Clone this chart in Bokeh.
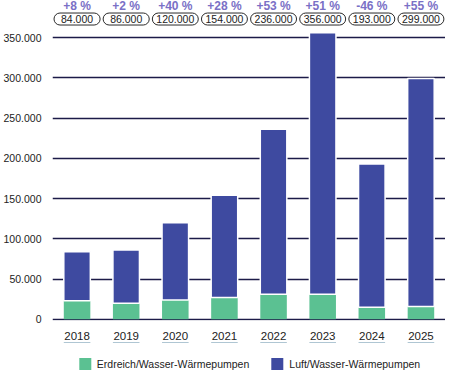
from bokeh.plotting import figure
from bokeh.layouts import column
from bokeh.models import (Range1d, FactorRange, FixedTicker, Legend, LegendItem,
                          ColumnDataSource, CDSView, IndexFilter)
from bokeh.core.properties import value
from bokeh.embed import file_html
from bokeh.resources import INLINE

years = ["2018", "2019", "2020", "2021", "2022", "2023", "2024", "2025"]
erdreich = [23000, 20000, 24000, 27000, 31000, 31000, 15000, 16000]
luft = [61000, 66000, 96000, 127000, 205000, 325000, 178000, 283000]
total_labels = ["84.000", "86.000", "120.000", "154.000", "236.000", "356.000", "193.000", "299.000"]
change_labels = ["+8 %", "+2 %", "+40 %", "+28 %", "+53 %", "+51 %", "-46 %", "+55 %"]
y_ticks = [0, 50000, 100000, 150000, 200000, 250000, 300000, 350000]
y_tick_labels = ["0", "50.000", "100.000", "150.000", "200.000", "250.000", "300.000", "350.000"]
series_names = ["Erdreich/Wasser-Wärmepumpen", "Luft/Wasser-Wärmepumpen"]

GREEN = "#5bc192"
BLUE = "#3e4aa0"
PURPLE = "#7a70c6"
DARK = "#1c1b48"
FONT = "Liberation Sans"

CHANGE_Y = 389000
BOX_Y = 373000

src = ColumnDataSource(dict(
    year=years, erdreich=erdreich, luft=luft,
    total_label=total_labels, change_label=change_labels,
    change_y=[CHANGE_Y] * len(years), box_y=[BOX_Y] * len(years),
))

p = figure(width=445, height=342, x_range=FactorRange(*years, range_padding=0),
           y_range=Range1d(-1500, 396000), output_backend="svg",
           toolbar_location=None, min_border_left=44, min_border_right=0,
           min_border_top=0, min_border_bottom=19)
p.outline_line_color = None
p.background_fill_color = "white"

rs = p.vbar_stack(["erdreich", "luft"], x="year", width=0.54, color=[GREEN, BLUE],
                  line_color="white", line_alpha=[0, 1], line_width=1.5, source=src)

short_idx = [i for i, l in enumerate(total_labels) if len(l) <= 6]
long_idx = [i for i, l in enumerate(total_labels) if len(l) > 6]
for idx, hpad in ((short_idx, 7), (long_idx, 4)):
    p.text(x="year", y="box_y", text="total_label", text_align="center",
           text_baseline="middle", text_font=value(FONT), text_font_size="10.5px",
           text_color="#222222", background_fill_color="white",
           border_line_color="#2a2a2a", border_line_width=1,
           border_radius=6, padding=(hpad, 2), source=src,
           view=CDSView(filter=IndexFilter(idx)))
p.text(x="year", y="change_y", text="change_label", text_align="center",
       text_baseline="middle", text_font=value(FONT), text_font_size="12px",
       text_font_style="bold", text_color=PURPLE, source=src)

p.xgrid.grid_line_color = None
p.ygrid.grid_line_color = DARK
p.ygrid.grid_line_width = 1.5
p.yaxis.ticker = FixedTicker(ticks=y_ticks)
p.yaxis.major_label_overrides = {t: l for t, l in zip(y_ticks, y_tick_labels)}

for ax in (p.xaxis, p.yaxis):
    ax.axis_line_color = None
    ax.major_tick_line_color = None
    ax.minor_tick_line_color = None
    ax.major_label_text_font = FONT
    ax.major_label_text_color = "#222222"
p.yaxis.major_label_text_font_size = "10.5px"
p.yaxis.major_label_standoff = 5
p.xaxis.major_label_text_font_size = "11.5px"
p.xaxis.major_label_standoff = 5

# Legend strip below the chart (same series, drawn out of view so only the key shows)
lg = figure(width=445, height=29, x_range=p.x_range, y_range=Range1d(-2, -1),
            output_backend="svg", toolbar_location=None, min_border_left=44,
            min_border_right=0, min_border_top=0, min_border_bottom=0)
lg.outline_line_color = None
lg.axis.visible = False
lg.grid.grid_line_color = None
lrs = lg.vbar_stack(["erdreich", "luft"], x="year", width=0.54, color=[GREEN, BLUE],
                    line_color=None, source=src)
legend = Legend(items=[LegendItem(label=series_names[0], renderers=[lrs[0]]),
                       LegendItem(label=series_names[1], renderers=[lrs[1]])],
                orientation="horizontal", location="bottom_center",
                glyph_width=15, glyph_height=15, label_text_font=FONT,
                label_text_font_size="10.5px", label_text_color="#222222",
                label_height=15, spacing=20, label_standoff=5,
                border_line_color=None, padding=0, margin=0,
                background_fill_alpha=0)
lg.add_layout(legend, "center")

layout = column(p, lg, spacing=0)
open("out.html", "w").write(file_html(layout, INLINE))
